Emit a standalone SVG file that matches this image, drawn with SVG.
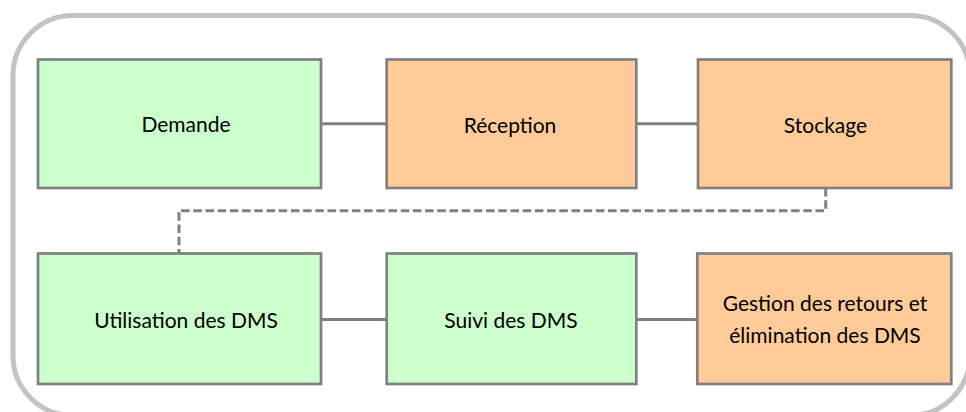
<svg xmlns="http://www.w3.org/2000/svg" width="966" height="412" viewBox="0 0 966 412">
<style>
.frame{fill:#FFFFFF;stroke:#C3C3C3;stroke-width:5}
.box{stroke:#808080;stroke-width:2.7}
.green{fill:#CCFFCC}
.orange{fill:#FFCC99}
.conn{stroke:#808080;stroke-width:3;fill:none}
.dash{stroke-dasharray:8.5 3.7}
text{font-family:Lato,"Open Sans","DejaVu Sans",sans-serif;font-size:21px;fill:#000000;text-anchor:middle}
</style>
<rect width="966" height="412" fill="#FFFFFF"/>
<rect class="frame" x="13" y="15.5" width="957" height="400" rx="60" ry="60"/>
<g id="connectors">
<line class="conn" x1="321" y1="123.7" x2="386.7" y2="123.7"/>
<line class="conn" x1="636.3" y1="123.7" x2="698" y2="123.7"/>
<polyline class="conn dash" points="825.7,188 825.7,210.7 179,210.7 179,253.5"/>
<line class="conn" x1="321" y1="319.5" x2="386.7" y2="319.5"/>
<line class="conn" x1="636.3" y1="319.5" x2="697.3" y2="319.5"/>
</g>
<g id="demande">
<rect class="box green" x="38" y="59.5" width="283" height="128.5"/>
<text x="186" y="132">Demande</text>
</g>
<g id="reception">
<rect class="box orange" x="386.7" y="59.5" width="249.6" height="128.5"/>
<text x="510" y="132.5">Réception</text>
</g>
<g id="stockage">
<rect class="box orange" x="698" y="59.5" width="253.3" height="128.5"/>
<text x="825.5" y="133">Stockage</text>
</g>
<g id="utilisation">
<rect class="box green" x="38" y="253.5" width="283" height="130.5"/>
<text x="186" y="328">Utilisation des DMS</text>
</g>
<g id="suivi">
<rect class="box green" x="386.7" y="253.5" width="249.6" height="130.5"/>
<text x="511" y="328">Suivi des DMS</text>
</g>
<g id="gestion">
<rect class="box orange" x="697.3" y="253.5" width="254" height="130.5"/>
<text x="825" y="311">Gestion des retours et</text>
<text x="825" y="343">élimination des DMS</text>
</g>
</svg>
